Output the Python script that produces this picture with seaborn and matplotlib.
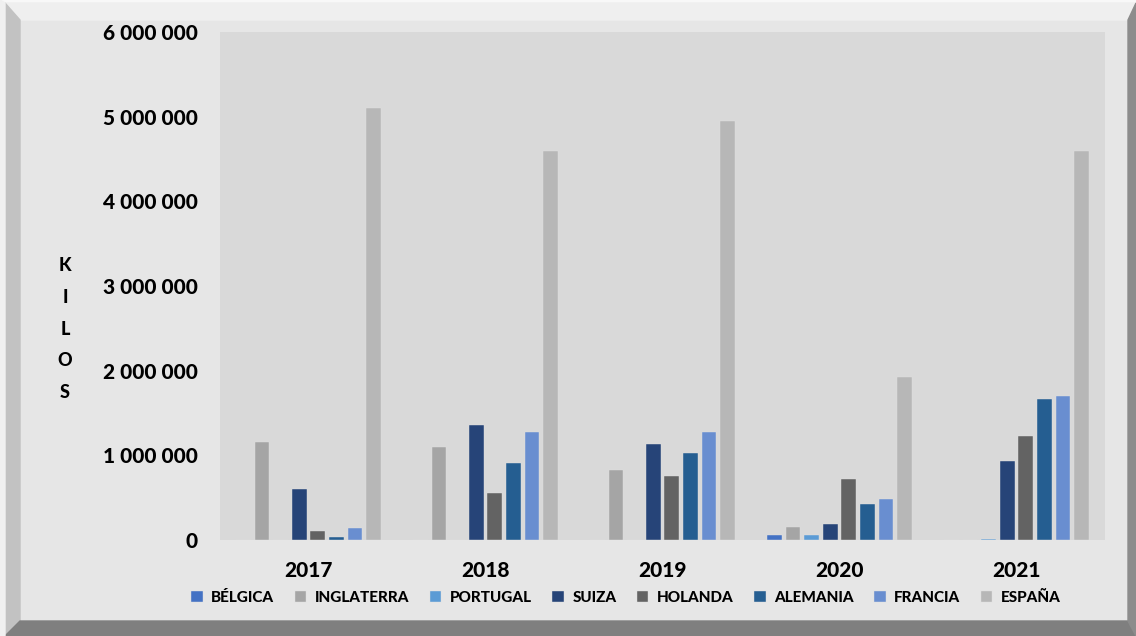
import pandas as pd
import matplotlib.pyplot as plt
import seaborn as sns
from matplotlib.patches import Polygon
from matplotlib.ticker import FuncFormatter

# data (kilos)
years = ["2017", "2018", "2019", "2020", "2021"]
countries = ["BÉLGICA", "INGLATERRA", "PORTUGAL", "SUIZA", "HOLANDA", "ALEMANIA", "FRANCIA", "ESPAÑA"]
belgica = [0, 0, 0, 59000, 0]
inglaterra = [1155000, 1095000, 827000, 157000, 0]
portugal = [0, 0, 0, 59000, 15000]
suiza = [600000, 1358000, 1138000, 190000, 930000]
holanda = [106000, 560000, 756000, 720000, 1228000]
alemania = [30000, 906000, 1028000, 430000, 1665000]
francia = [145000, 1280000, 1270000, 485000, 1700000]
espana = [5100000, 4600000, 4950000, 1930000, 4590000]
colors = ["#4472C4", "#A5A5A5", "#5B9BD5", "#264478", "#636363", "#255E91", "#698ED0", "#B7B7B7"]

series = [belgica, inglaterra, portugal, suiza, holanda, alemania, francia, espana]
rows = []
for c, vals in zip(countries, series):
    for y, v in zip(years, vals):
        rows.append({"year": y, "country": c, "kilos": v})
df = pd.DataFrame(rows)

W, H = 1136, 636
fig = plt.figure(figsize=(W / 100, H / 100), dpi=100)
fig.patch.set_facecolor("#e6e6e6")


def px(pts):
    return [(x / W, 1 - y / H) for x, y in pts]


# bevelled frame
fig.add_artist(Polygon(px([(0, 0), (W, 0), (W, 3), (0, 3)]), closed=True, transform=fig.transFigure, color="#f8f8f8", zorder=0))
fig.add_artist(Polygon(px([(5, 3), (W, 3), (1128, 20), (20, 20)]), closed=True, transform=fig.transFigure, color="#efefef", zorder=0))
fig.add_artist(Polygon(px([(5, 3), (20, 20), (20, 621), (5, 636)]), closed=True, transform=fig.transFigure, color="#c2c2c2", zorder=0))
fig.add_artist(Polygon(px([(5, 636), (20, 621), (1128, 621), (W, 636)]), closed=True, transform=fig.transFigure, color="#7f7f7f", zorder=0))
fig.add_artist(Polygon(px([(W, 3), (1128, 20), (1128, 621), (W, 636)]), closed=True, transform=fig.transFigure, color="#8c8c8c", zorder=0))
fig.add_artist(Polygon(px([(0, 0), (5, 3), (5, 636), (0, 636)]), closed=True, transform=fig.transFigure, color="#f0f0f0", zorder=0))

ax = fig.add_axes([220 / W, 1 - 540 / H, (1105 - 220) / W, (540 - 32) / H])
ax.set_facecolor("#d9d9d9")

sns.barplot(data=df, x="year", y="kilos", hue="country", order=years, hue_order=countries,
            palette=colors, saturation=1, width=0.843, gap=0.21, ax=ax, legend=True,
            edgecolor="#e0e0e0", linewidth=0.3)

ax.set_ylim(0, 6000000)
ax.set_yticks(range(0, 6000001, 1000000))
ax.yaxis.set_major_formatter(FuncFormatter(lambda v, p: f"{int(v):,}".replace(",", " ")))
for s in ax.spines.values():
    s.set_visible(False)
ax.tick_params(axis="both", length=0)
ax.tick_params(axis="y", pad=16)
ax.tick_params(axis="x", pad=15)
for lab in ax.get_xticklabels() + ax.get_yticklabels():
    lab.set_fontfamily("Lato")
    lab.set_fontweight(900)
    lab.set_fontsize(15)
ax.set_xlabel("")
ax.set_ylabel("")

fig.text(65 / W, 1 - 329 / H, "K\nI\nL\nO\nS", ha="center", va="center", fontfamily="Lato",
         fontweight=900, fontsize=13, linespacing=2.05)

handles, labels = ax.get_legend_handles_labels()
ax.get_legend().remove()
fig.legend(handles, labels, loc="center", bbox_to_anchor=(626 / W, 1 - 598 / H), ncol=8,
           frameon=False, handlelength=0.75, handleheight=0.75, handletextpad=0.55,
           columnspacing=1.35, prop={"family": "Lato", "weight": 900, "size": 11})

fig.savefig("out.png", dpi=100, facecolor=fig.get_facecolor())
